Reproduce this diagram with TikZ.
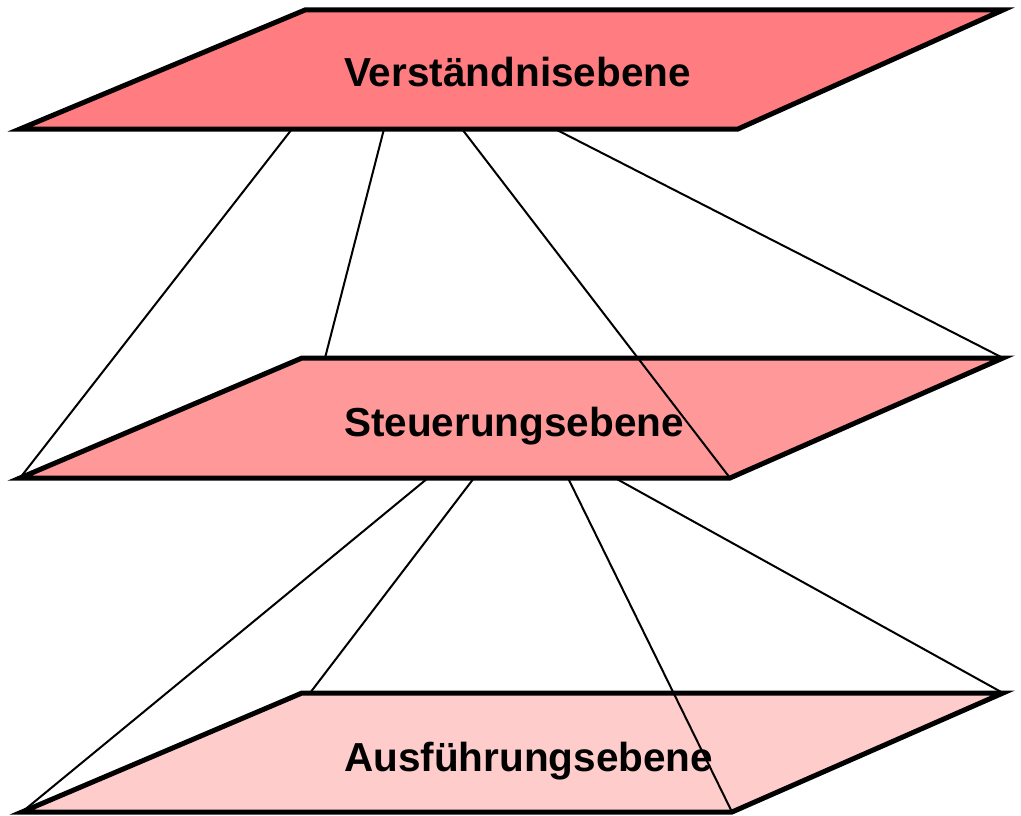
\documentclass[tikz,border=0pt]{standalone}
\usepackage{fontspec}
\setmainfont{Liberation Sans}
\begin{document}
\begin{tikzpicture}[x=1pt,y=-1pt,
  plane/.style={draw=black,line width=5pt,line join=miter},
  link/.style={draw=black,line width=2pt},
  planelabel/.style={anchor=base west,inner sep=0pt,font=\fontsize{40.5}{48}\selectfont\bfseries}]
\definecolor{levelA}{HTML}{FF7C80}
\definecolor{levelB}{HTML}{FF9999}
\definecolor{levelC}{HTML}{FFCCCC}
\useasboundingbox (0,0) rectangle (1021,816);

% corner points of the three planes
\coordinate (a1) at (20,129);  \coordinate (a2) at (305,10);
\coordinate (a3) at (1003,10); \coordinate (a4) at (738,129);
\coordinate (b1) at (20,478);  \coordinate (b2) at (302,358);
\coordinate (b3) at (1003,358);\coordinate (b4) at (730,478);
\coordinate (c1) at (22,812);  \coordinate (c2) at (302,693);
\coordinate (c3) at (1003,693);\coordinate (c4) at (732,812);

% the planes, top to bottom
\filldraw[plane,fill=levelA] (a1) -- (a2) -- (a3) -- (a4) -- cycle;
\filldraw[plane,fill=levelB] (b1) -- (b2) -- (b3) -- (b4) -- cycle;
\filldraw[plane,fill=levelC] (c1) -- (c2) -- (c3) -- (c4) -- cycle;

\node[planelabel] (la) at (344,87)  {Verständnisebene};
\node[planelabel] (lb) at (344,436) {Steuerungsebene};
\node[planelabel] (lc) at (344,771) {Ausführungsebene};

% attachment points on the lower edges and on the middle / lower top edges
\coordinate (ua1) at (292,129); \coordinate (ua2) at (384,129);
\coordinate (ua3) at (462,129); \coordinate (ua4) at (555,129);
\coordinate (ub1) at (428,478); \coordinate (ub2) at (474,478);
\coordinate (ub3) at (568,478); \coordinate (ub4) at (615,478);
\coordinate (tb) at (325,358);
\coordinate (tc) at (310,693);

% projection lines between the planes
\draw[link] (ua1) -- (b1);
\draw[link] (ua2) -- (tb);
\draw[link] (ua3) -- (b4);
\draw[link] (ua4) -- (b3);
\draw[link] (ub1) -- (c1);
\draw[link] (ub2) -- (tc);
\draw[link] (ub3) -- (c4);
\draw[link] (ub4) -- (c3);
\end{tikzpicture}
\end{document}
